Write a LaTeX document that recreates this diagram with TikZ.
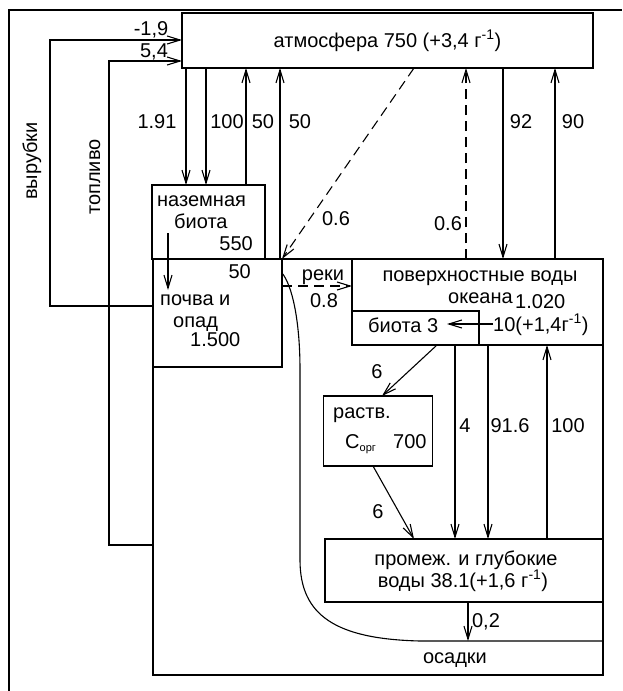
\documentclass[tikz,border=0pt]{standalone}
\usepackage{fontspec}
\setmainfont{Liberation Sans}
\usetikzlibrary{arrows.meta}
\tikzset{
  every node/.style={font=\fontsize{20}{22}\selectfont},
  pool/.style={draw, line width=1.2pt, inner sep=0pt, outer sep=0pt},
  pooltext/.style={inner sep=0pt, anchor=base west},
  flux/.style={-{Straight Barb[length=13pt,width=8pt]}, line width=1.1pt},
  fluxdashed/.style={flux, dash pattern=on 10pt off 6pt},
  fluxlabel/.style={inner sep=0pt, anchor=base},
  frameline/.style={line width=2.8pt}
}

\begin{document}
\begin{tikzpicture}[x=1pt,y=-1pt]
\useasboundingbox (0,0) rectangle (622,691);

% Page frame, only top and left edges are printed.
\draw[frameline] (9,691) -- (9,10) -- (622,10);

% Reservoirs.
\node[pool, minimum width=411pt, minimum height=55pt] (atm) at (387.5,40.5)
  {атмосфера 750 (+3,4 г\textsuperscript{-1})};
\node[pool, minimum width=450pt, minimum height=416pt] (earth) at (378,467) {};
\node[pool, minimum width=113pt, minimum height=74pt] (biota) at (208.5,222) {};
\node[pool, minimum width=129pt, minimum height=108pt] (soil) at (217.5,313) {};
\node[pool, minimum width=251pt, minimum height=86pt] (ocean) at (477.5,302) {};
\node[pool, minimum width=127pt, minimum height=34pt] (obiota) at (415.5,328) {};
\node[pool, minimum width=109pt, minimum height=70pt] (doc) at (378,431) {};
\node[pool, minimum width=278pt, minimum height=63pt] (deep) at (464,570.5) {};

% Texts inside the reservoirs.
\node[pooltext] (biotaA) at (157,206) {наземная};
\node[pooltext] (biotaB) at (174,228) {биота};
\node[pooltext, anchor=base east] (biotaC) at (253,250) {550};
\node[pooltext] (soilA) at (160,305) {почва и};
\node[pooltext] (soilB) at (173,327) {опад};
\node[pooltext] (soilC) at (190,346) {1.500};
\node[fluxlabel] (oceanA) at (480,281) {поверхностные воды};
\node[pooltext] (oceanB) at (448,303) {океана};
\node[pooltext] (oceanC) at (515,308) {1.020};
\node[pooltext] (obiotaA) at (368,332) {биота 3};
\node[pooltext] (docA) at (333,418) {раств.};
\node[pooltext] (docB) at (345,448) {C\textsubscript{\fontsize{11}{12}\selectfont орг}};
\node[pooltext] (docC) at (393,448) {700};
\node[fluxlabel] (deepA) at (466,565) {промеж. и глубокие};
\node[fluxlabel] (deepB) at (463,587) {воды 38.1(+1,6 г\textsuperscript{-1})};
\node[fluxlabel] (sedA) at (455,663) {осадки};

% Land fluxes.
\node[fluxlabel, rotate=90] (cutlab) at (37,161) {вырубки};
\node[fluxlabel, rotate=90] (fuellab) at (100,177) {топливо};
\draw[flux] (soil.west |- 0,306) -- ++(-103,0) |- (atm.west |- 0,40);
\draw[flux] (earth.west |- 0,545) -- ++(-44,0) |- (atm.west |- 0,61);
\node[fluxlabel] (cut) at (151,35) {-1,9};
\node[fluxlabel] (fuel) at (154,57) {5,4};

\draw[flux] (186,0 |- atm.south) -- (186,0 |- biota.north);
\draw[flux] (206,0 |- atm.south) -- (206,0 |- biota.north);
\draw[flux] (246,0 |- biota.north) -- (246,0 |- atm.south);
\draw[flux] (280,0 |- soil.north) -- (280,0 |- atm.south);
\node[fluxlabel] (f1) at (157,128) {1.91};
\node[fluxlabel] (f2) at (227,128) {100};
\node[fluxlabel] (f3) at (263,128) {50};
\node[fluxlabel] (f4) at (300,128) {50};

\draw[flux] (168,233) -- (168,290);
\node[fluxlabel, anchor=base east] (litter) at (251,278) {50};

\draw[fluxdashed] (414,0 |- atm.south) -- (soil.north east);
\node[fluxlabel] (f5) at (336,225) {0.6};

% Rivers and sedimentation.
\draw[fluxdashed] (soil.east |- 0,286) -- (ocean.west |- 0,286);
\node[fluxlabel] (river) at (323,280) {реки};
\node[fluxlabel] (riverv) at (324,307) {0.8};
\draw[line width=1.1pt] (soil.east |- 0,273) .. controls (292,285) and (300,320) ..
  (300,370) -- (300,560) .. controls (300,615) and (335,639) .. (420,641)
  -- (earth.east |- 0,641);

% Ocean fluxes.
\draw[fluxdashed] (466,0 |- ocean.north) -- (466,0 |- atm.south);
\node[fluxlabel] (f6) at (448,230) {0.6};
\draw[flux] (503,0 |- atm.south) -- (503,0 |- ocean.north);
\draw[flux] (555,0 |- ocean.north) -- (555,0 |- atm.south);
\node[fluxlabel] (f7) at (521,128) {92};
\node[fluxlabel] (f8) at (573,128) {90};

\node[pooltext] (prod) at (493,331) {10(+1,4г\textsuperscript{-1})};
\draw[flux] (prod.west |- 0,324) -- (447,324);

\draw[flux] (437,0 |- obiota.south) -- (382,0 |- doc.north);
\node[fluxlabel] (f9) at (377,378) {6};
\draw[flux] (373,0 |- doc.south) -- (414,0 |- deep.north);
\node[fluxlabel] (f10) at (378,518) {6};

\draw[flux] (455,0 |- ocean.south) -- (455,0 |- deep.north);
\draw[flux] (488,0 |- ocean.south) -- (488,0 |- deep.north);
\draw[flux] (547,0 |- deep.north) -- (547,0 |- ocean.south);
\node[fluxlabel] (f11) at (465,432) {4};
\node[fluxlabel] (f12) at (510,432) {91.6};
\node[fluxlabel] (f13) at (568,432) {100};

\draw[flux] (468,0 |- deep.south) -- (468,641);
\node[fluxlabel] (f14) at (486,627) {0,2};

\end{tikzpicture}
\end{document}
